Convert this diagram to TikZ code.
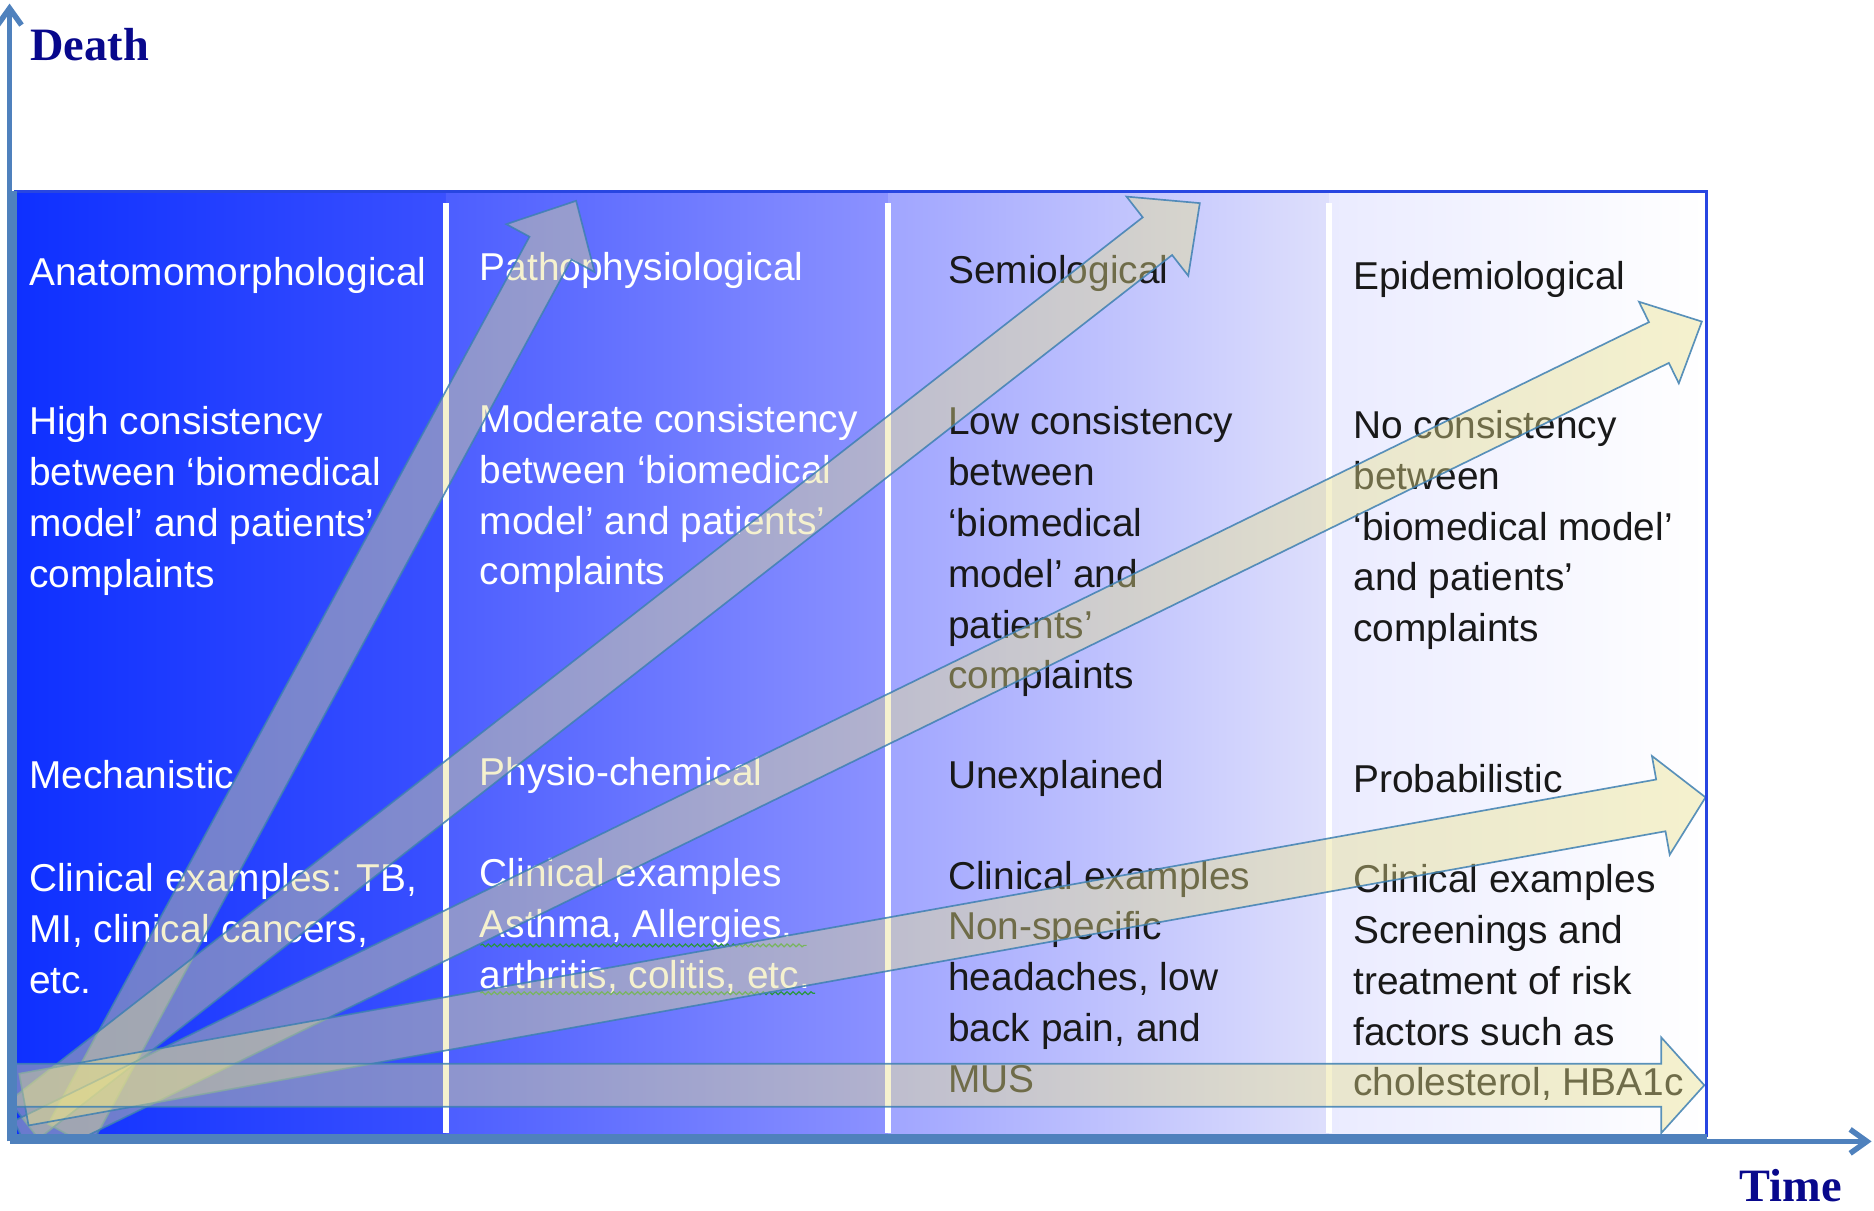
\documentclass[tikz,border=0pt]{standalone}
\usepackage{fontspec}
\setmainfont{Liberation Sans}
\newfontfamily\axisfont{Liberation Serif}
\usetikzlibrary{arrows.meta,decorations.pathmorphing}
\definecolor{axisblue}{RGB}{79,129,189}
\definecolor{frameblue}{RGB}{40,70,225}
\definecolor{labelnavy}{RGB}{8,8,140}
\definecolor{fanfill}{RGB}{232,224,140}
\definecolor{fanedge}{RGB}{62,128,178}
\definecolor{spellgreen}{RGB}{40,150,60}
\definecolor{bandAl}{RGB}{14,48,255}
\definecolor{bandAr}{RGB}{58,80,255}
\definecolor{bandBl}{RGB}{76,94,255}
\definecolor{bandBr}{RGB}{140,146,255}
\definecolor{bandCl}{RGB}{160,165,255}
\definecolor{bandCr}{RGB}{222,223,252}
\definecolor{bandDl}{RGB}{234,235,255}
\definecolor{bandDr}{RGB}{255,255,255}

\tikzset{
  coltext/.style={anchor=north west, inner sep=0pt, align=left, font={\fontsize{16.25}{21.25}\selectfont}},
  lighttext/.style={coltext, text=white},
  darktext/.style={coltext, text=black!90},
  axislabel/.style={anchor=base west, inner sep=0pt, text=labelnavy, font={\axisfont\bfseries\fontsize{19.4}{22}\selectfont}},
  axisline/.style={draw=axisblue, line width=2.3pt, -{Straight Barb[length=7pt,width=10pt]}},
  divider/.style={draw=white, line width=2.5pt},
  fanshape/.style={fill=fanfill, fill opacity=0.42, draw=fanedge, draw opacity=0.85, line width=0.7pt},
  squiggle/.style={draw=spellgreen, line width=0.5pt, decorate, decoration={snake, amplitude=0.6pt, segment length=2.5pt}}
}

% block arrow: base, angle, length, half shaft, half head, head length
\newcommand{\fanarrow}[6]{%
  \begin{scope}[shift={(#1)}, rotate=#2]
    \draw[fanshape] (0,-#4) -- (#3-#6,-#4) -- (#3-#6,-#5) -- (#3,0) -- (#3-#6,#5) -- (#3-#6,#4) -- (0,#4) -- cycle;
  \end{scope}}

\begin{document}
\begin{tikzpicture}[x=0.5pt, y=-0.5pt]
  \useasboundingbox (0,0) rectangle (1568,1013);

  % colour bands
  \shade[left color=bandAl, right color=bandAr] (12,160) rectangle (373,951);
  \shade[left color=bandBl, right color=bandBr] (373,160) rectangle (743,951);
  \shade[left color=bandCl, right color=bandCr] (743,160) rectangle (1112,951);
  \shade[left color=bandDl, right color=bandDr] (1112,160) rectangle (1428,951);
  \foreach \dx in {373,743,1112}
    \draw[divider] (\dx,170) -- (\dx,948);

  % column texts
  \node[lighttext] (anat) at (24,215) {Anatomomorphological};
  \node[lighttext] (anatcons) at (24,340) {High consistency\\between ‘biomedical\\model’ and patients’\\complaints};
  \node[lighttext] (mech) at (24,636) {Mechanistic};
  \node[lighttext] (anatex) at (24,722) {Clinical examples: TB,\\MI, clinical cancers,\\etc.};

  \node[lighttext] (patho) at (401,211) {Pathophysiological};
  \node[lighttext] (pathocons) at (401,338) {Moderate consistency\\between ‘biomedical\\model’ and patients’\\complaints};
  \node[lighttext] (physio) at (401,633) {Physio-chemical};
  \node[lighttext] (pathoex) at (401,718) {Clinical examples\\Asthma, Allergies.\\arthritis, colitis, etc.};
  \draw[squiggle] (402,791) -- (675,791);
  \draw[squiggle] (402,831) -- (682,831);

  \node[darktext] (semio) at (793,213) {Semiological};
  \node[darktext] (semiocons) at (793,340) {Low consistency\\between\\‘biomedical\\model’ and\\patients’\\complaints};
  \node[darktext] (unexpl) at (793,636) {Unexplained};
  \node[darktext] (semioex) at (793,720) {Clinical examples\\Non-specific\\headaches, low\\back pain, and\\MUS};

  \node[darktext] (epid) at (1132,218) {Epidemiological};
  \node[darktext] (epidcons) at (1132,343) {No consistency\\between\\‘biomedical model’\\and patients’\\complaints};
  \node[darktext] (prob) at (1132,639) {Probabilistic};
  \node[darktext] (epidex) at (1132,723) {Clinical examples\\Screenings and\\treatment of risk\\factors such as\\cholesterol, HBA1c};

  % fan of arrows
  \coordinate (baseA) at (58,950);
  \coordinate (baseB) at (20,937);
  \coordinate (baseC) at (20,955);
  \coordinate (baseD) at (20,920);
  \coordinate (baseE) at (12,908);
  \begin{scope}
    \clip (12,160) rectangle (1428,951);
    \fanarrow{baseA}{61.53}{889.6}{20}{42}{45}
    \fanarrow{baseB}{37.94}{1247.6}{20}{42}{45}
    \fanarrow{baseC}{26.04}{1562.6}{19}{38}{40}
    \fanarrow{baseD}{10.19}{1429.6}{22}{42}{38}
    \fanarrow{baseE}{0}{1414}{18}{40}{36}
  \end{scope}

  % frame
  \draw[frameblue, line width=1.2pt] (12,160) -- (1428,160) -- (1428,951);
  \draw[axisblue, line width=2pt] (12,160) -- (12,951) -- (1428,951);

  % axes
  \coordinate (origin) at (8,955);
  \coordinate (ytop) at (8,3);
  \coordinate (xend) at (1566,955);
  \draw[axisline] (origin) -- (ytop);
  \draw[axisline] (origin) -- (xend);
  \node[axislabel] (death) at (25,51) {Death};
  \node[axislabel] (time) at (1455,1005) {Time};
\end{tikzpicture}
\end{document}
